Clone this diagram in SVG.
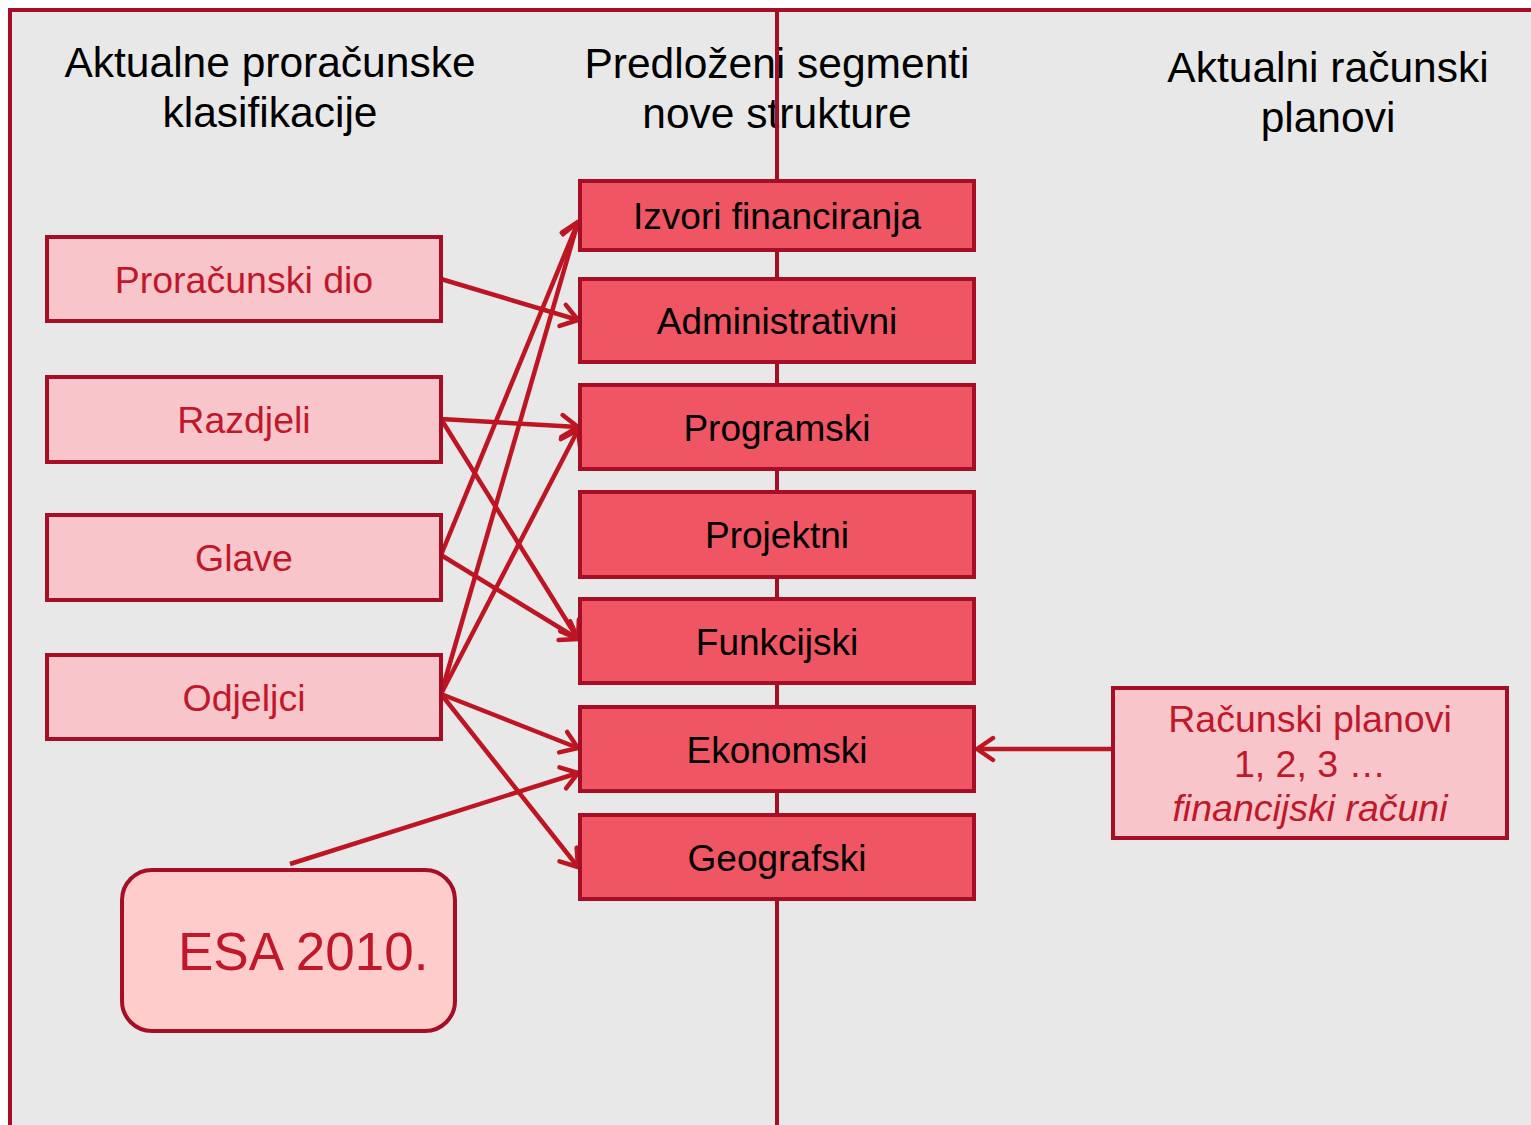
<svg xmlns="http://www.w3.org/2000/svg" width="1531" height="1125" viewBox="0 0 1531 1125">
<style>
text{font-family:"Liberation Sans",Arial,sans-serif;}
.hdr{font-size:42.5px;fill:#000;text-anchor:middle;}
.seg rect{fill:#EF5563;stroke:#A50E24;stroke-width:4;}
.seg text{font-size:37px;fill:#000;text-anchor:middle;}
.cls rect{fill:#F8C6CA;stroke:#A50E24;stroke-width:4;}
.cls text{font-size:37.5px;fill:#C0182A;text-anchor:middle;}
.conn line{stroke:#BD1522;stroke-width:4.5;marker-end:url(#arr);}
</style>
<defs>
<marker id="arr" markerUnits="userSpaceOnUse" viewBox="-20 -14 24 28" markerWidth="24" markerHeight="28" refX="0" refY="0" orient="auto">
<path d="M-16,-11 L0,0 L-16,11" fill="none" stroke="#BD1522" stroke-width="4.5" stroke-linecap="round" stroke-linejoin="round"/>
</marker>
</defs>
<rect x="0" y="0" width="1531" height="1125" fill="#fff"/>
<rect x="10" y="10" width="1521" height="1115" fill="#E8E8E8"/>
<g id="frame" stroke="#A50E24" stroke-width="4" fill="none">
<line x1="8" y1="10" x2="1531" y2="10"/>
<line x1="10" y1="8" x2="10" y2="1125"/>
</g>
<g id="headers">
<text class="hdr" x="270" y="77">Aktualne proračunske</text>
<text class="hdr" x="270" y="127">klasifikacije</text>
<text class="hdr" x="777" y="78">Predloženi segmenti</text>
<text class="hdr" x="777" y="128">nove strukture</text>
<text class="hdr" x="1328" y="82">Aktualni računski</text>
<text class="hdr" x="1328" y="132">planovi</text>
</g>
<line id="divider" x1="777" y1="8" x2="777" y2="1125" stroke="#A50E24" stroke-width="4"/>
<g id="connectors" class="conn">
<line x1="441" y1="279" x2="578" y2="320"/>
<line x1="441" y1="419" x2="578" y2="427"/>
<line x1="441" y1="419" x2="578" y2="639"/>
<line x1="441" y1="555" x2="578" y2="222"/>
<line x1="441" y1="555" x2="578" y2="639"/>
<line x1="441" y1="694" x2="578" y2="222"/>
<line x1="441" y1="694" x2="578" y2="430"/>
<line x1="441" y1="694" x2="578" y2="748"/>
<line x1="441" y1="694" x2="578" y2="867"/>
<line x1="290" y1="864" x2="578" y2="773"/>
<line x1="1113" y1="749" x2="977" y2="749"/>
</g>
<g id="seg-izvori" class="seg"><rect x="580" y="181" width="394" height="69"/><text x="777" y="229">Izvori financiranja</text></g>
<g id="seg-administrativni" class="seg"><rect x="580" y="279" width="394" height="83"/><text x="777" y="334">Administrativni</text></g>
<g id="seg-programski" class="seg"><rect x="580" y="385" width="394" height="84"/><text x="777" y="441">Programski</text></g>
<g id="seg-projektni" class="seg"><rect x="580" y="492" width="394" height="85"/><text x="777" y="548">Projektni</text></g>
<g id="seg-funkcijski" class="seg"><rect x="580" y="599" width="394" height="84"/><text x="777" y="655">Funkcijski</text></g>
<g id="seg-ekonomski" class="seg"><rect x="580" y="707" width="394" height="84"/><text x="777" y="763">Ekonomski</text></g>
<g id="seg-geografski" class="seg"><rect x="580" y="815" width="394" height="84"/><text x="777" y="871">Geografski</text></g>
<g id="cls-proracunski" class="cls"><rect x="47" y="237" width="394" height="84"/><text x="244" y="293">Proračunski dio</text></g>
<g id="cls-razdjeli" class="cls"><rect x="47" y="377" width="394" height="85"/><text x="244" y="433">Razdjeli</text></g>
<g id="cls-glave" class="cls"><rect x="47" y="515" width="394" height="85"/><text x="244" y="571">Glave</text></g>
<g id="cls-odjeljci" class="cls"><rect x="47" y="655" width="394" height="84"/><text x="244" y="711">Odjeljci</text></g>
<g id="racunski-planovi" class="cls"><rect x="1113" y="688" width="394" height="150"/>
<text x="1310" y="732">Računski planovi</text>
<text x="1310" y="777">1, 2, 3 …</text>
<text x="1310" y="821" font-style="italic">financijski računi</text></g>
<g id="esa"><rect x="122" y="870" width="333" height="161" rx="30" ry="30" fill="#FFCCCC" stroke="#A50E24" stroke-width="4"/>
<text x="178" y="970" font-size="53" fill="#C0182A">ESA 2010.</text></g>
</svg>
